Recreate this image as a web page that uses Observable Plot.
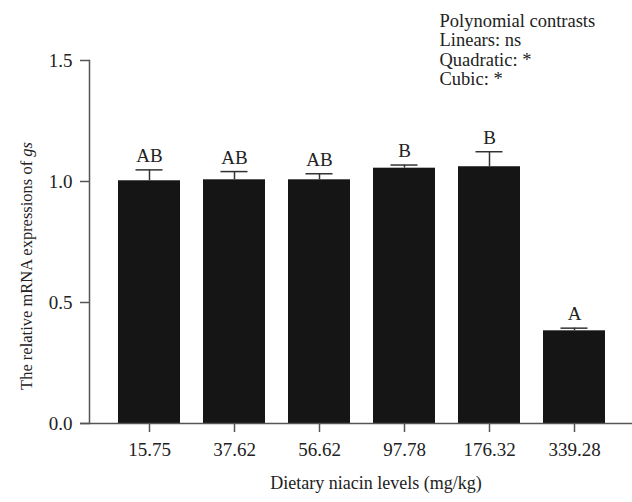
<!DOCTYPE html>
<html>
<head>
<meta charset="utf-8">
<script src="https://cdn.jsdelivr.net/npm/d3@7"></script>
<script src="https://cdn.jsdelivr.net/npm/@observablehq/plot@0.6"></script>
<style>
  html, body { margin: 0; padding: 0; background: #fff; }
  #chart svg { display: block; }
</style>
</head>
<body>
<div id="chart"></div>
<script>
// Dietary niacin levels (mg/kg)
const levels = ["15.75", "37.62", "56.62", "97.78", "176.32", "339.28"];
// Mean relative mRNA expression of gs
const means = [1.003, 1.007, 1.007, 1.055, 1.061, 0.383];
// Upper error (SE)
const errors = [0.045, 0.034, 0.025, 0.013, 0.062, 0.011];
// Significance letters
const letters = ["AB", "AB", "AB", "B", "B", "A"];
// Y tick values
const yTicks = [0, 0.5, 1.0, 1.5];
// Contrast notes
const notes = ["Polynomial contrasts", "Linears: ns", "Quadratic: *", "Cubic: *"];

const data = levels.map((level, i) => ({
  level, mean: means[i], err: errors[i], top: means[i] + errors[i], letter: letters[i]
}));

const W = 632, H = 502;
const mL = 89, mT = 60, mB = 79, mR = 0;
const font = "'Liberation Serif', 'Times New Roman', serif";
const axisColor = "#555";
const ink = "#222";

const chart = Plot.plot({
  width: W,
  height: H,
  marginLeft: mL,
  marginRight: mR,
  marginTop: mT,
  marginBottom: mB,
  style: { fontFamily: font, fontSize: "19px", color: ink, background: "#fff" },
  x: { domain: levels, range: [104, 618], paddingInner: 0.276, paddingOuter: 0.138, label: null },
  y: { domain: [0, 1.5], label: null },
  marks: [
    Plot.barY(data, { x: "level", y: "mean", fill: "#151515" }),
    Plot.ruleX(data, { x: "level", y1: "mean", y2: "top", stroke: "#333", strokeWidth: 1.5 }),
    Plot.tickY(data, { x: "level", y: "top", stroke: "#333", strokeWidth: 1.5, insetLeft: 17.5, insetRight: 17.5 }),
    Plot.text(data, { x: "level", y: "top", text: "letter", lineAnchor: "bottom", dy: -8, fill: ink, fontSize: 19 }),
    Plot.frame({ anchor: "left", stroke: axisColor, strokeWidth: 1.5 }),
    Plot.ruleY([0], { stroke: axisColor, strokeWidth: 1.5, insetLeft: -9 }),
    Plot.axisY({ ticks: yTicks, tickFormat: d3.format(".1f"), tickSize: 9, tickPadding: 8, stroke: axisColor, strokeWidth: 1.5, fill: ink, label: null }),
    Plot.axisX({ tickSize: 9, tickPadding: 10, stroke: axisColor, strokeWidth: 1.5, fill: ink, label: null }),
    // Polynomial contrast notes, stacked in the top-right corner
    Plot.text(notes, {
      text: (d) => d, frameAnchor: "top-left",
      textAnchor: "start", fill: ink, fontSize: 18.5,
      render(index, scales, values, dims, context, next) {
        const g = next(index, scales, values, dims, context);
        const baselines = [26, 45.5, 65, 84.5];
        d3.select(g).selectAll("text").each(function (_, j) {
          d3.select(this).attr("transform", null).attr("x", 439).attr("y", baselines[j]).attr("dy", null);
        });
        return g;
      }
    })
  ]
});

// Axis titles
const svg = d3.select(chart);
svg.append("text")
  .attr("x", 376)
  .attr("y", 489)
  .attr("text-anchor", "middle")
  .attr("fill", ink)
  .style("font-family", font)
  .style("font-size", "18px")
  .text("Dietary niacin levels (mg/kg)");

const yt = svg.append("text")
  .attr("transform", "translate(32, 266) rotate(-90)")
  .attr("text-anchor", "middle")
  .attr("fill", ink)
  .style("font-family", font)
  .style("font-size", "16.5px");
yt.append("tspan").text("The relative mRNA expressions of ");
yt.append("tspan").attr("font-style", "italic").text("gs");

document.getElementById("chart").appendChild(chart);
</script>
</body>
</html>
